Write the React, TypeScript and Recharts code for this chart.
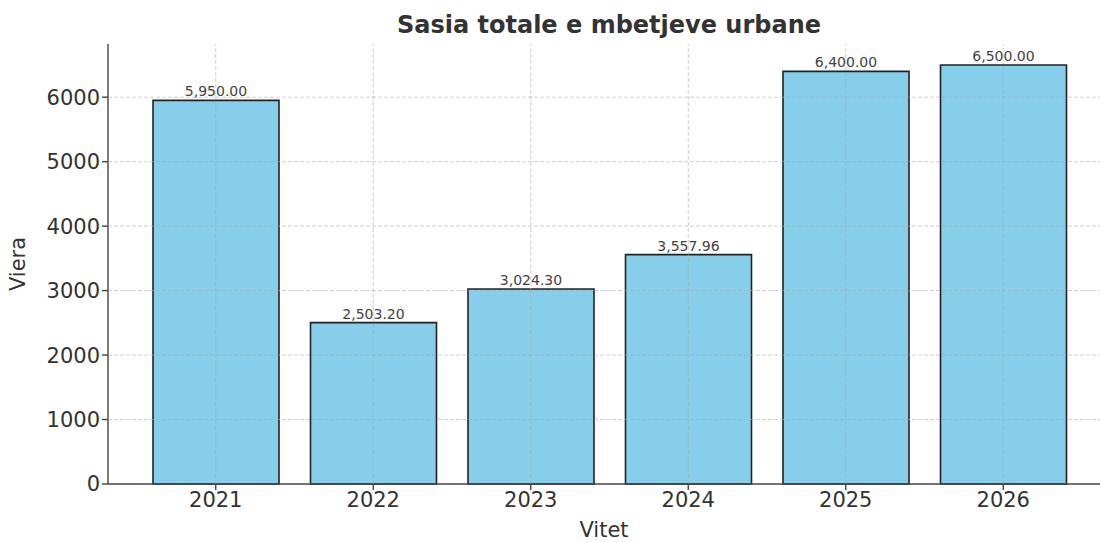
import {
  BarChart,
  Bar,
  XAxis,
  YAxis,
  LabelList,
  ReferenceLine,
} from 'recharts';

const vitet = ['2021', '2022', '2023', '2024', '2025', '2026'];
const vlerat = [5950, 2503.2, 3024.3, 3557.96, 6400, 6500];
const yTicks = [0, 1000, 2000, 3000, 4000, 5000, 6000];

const data = vitet.map((viti, i) => ({ viti, vlera: vlerat[i] }));

const font = '"DejaVu Sans", sans-serif';
const yMax = 6825;
const gridColor = '#a8a8a8';
const chartMargin = { top: 44, right: 0, bottom: 0, left: 8 };
const xPad = { left: 29, right: 18 };

const formatVlera = (v: any) =>
  Number(v).toLocaleString('en-US', { minimumFractionDigits: 2, maximumFractionDigits: 2 });

// second chart with the same layout, only for the dashed grid drawn above the bars
function GridOverlay() {
  return (
    <div style={{ position: 'absolute', left: 0, top: 0, pointerEvents: 'none' }}>
      <BarChart width={1100} height={542} data={data} margin={chartMargin} barSize={126}>
        <XAxis dataKey="viti" height={58} padding={xPad} axisLine={false} tickLine={false} tick={false} />
        <YAxis type="number" domain={[0, yMax]} ticks={yTicks} width={100} axisLine={false} tickLine={false} tick={false} />
        <Bar dataKey="vlera" fill="none" fillOpacity={0} stroke="none" isAnimationActive={false} />
        {yTicks.slice(1).map((t) => (
          <ReferenceLine key={'h' + t} y={t} stroke={gridColor} strokeOpacity={0.55} strokeDasharray="4 2" />
        ))}
        {vitet.map((v) => (
          <ReferenceLine key={'v' + v} x={v} stroke={gridColor} strokeOpacity={0.55} strokeDasharray="4 2" />
        ))}
      </BarChart>
    </div>
  );
}

export default function App() {
  return (
    <div
      style={{
        position: 'fixed',
        left: 0,
        top: 0,
        width: 1100,
        height: 542,
        overflow: 'hidden',
        background: '#fff',
        fontFamily: font,
      }}
    >
      <div
        style={{
          position: 'absolute',
          left: 0,
          top: 13,
          width: 1218,
          textAlign: 'center',
          fontSize: 24,
          lineHeight: '24px',
          fontWeight: 'bold',
          color: '#333',
        }}
      >
        Sasia totale e mbetjeve urbane
      </div>
      <div style={{ position: 'absolute', left: 0, top: 0 }}>
        <BarChart width={1100} height={542} data={data} margin={chartMargin} barSize={126}>
          <XAxis
            dataKey="viti"
            height={58}
            padding={xPad}
            tick={{ fill: '#333', fontSize: 21, fontFamily: font }}
            tickSize={6}
            stroke="#444"
            strokeWidth={1.4}
            label={{ value: 'Vitet', position: 'insideBottom', offset: 5, fill: '#333', fontSize: 21, fontFamily: font }}
          />
          <YAxis
            type="number"
            domain={[0, yMax]}
            ticks={yTicks}
            width={100}
            tick={{ fill: '#333', fontSize: 21, fontFamily: font }}
            tickSize={6}
            stroke="#444"
            strokeWidth={1.4}
            label={{
              value: 'Viera',
              angle: -90,
              position: 'insideLeft',
              offset: 10,
              fill: '#333',
              fontSize: 21,
              fontFamily: font,
              style: { textAnchor: 'middle' },
            }}
          />
          <Bar dataKey="vlera" fill="#87CEEB" stroke="#222" strokeWidth={1.6} isAnimationActive={false}>
            <LabelList
              dataKey="vlera"
              position="top"
              offset={4}
              formatter={formatVlera}
              fill="#444"
              fontSize={14}
              fontFamily={font}
            />
          </Bar>
        </BarChart>
      </div>
      <GridOverlay />
    </div>
  );
}
